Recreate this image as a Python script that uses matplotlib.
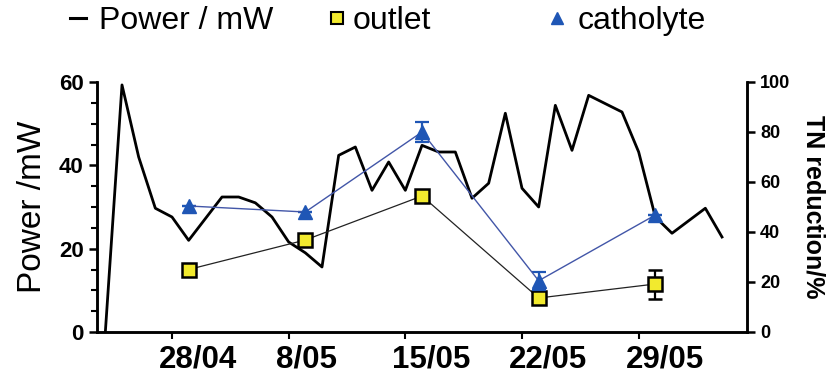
import matplotlib
matplotlib.use("Agg")
import matplotlib.pyplot as plt
from matplotlib.lines import Line2D
from matplotlib.ticker import MultipleLocator

plt.rcParams['font.family'] = ['Liberation Sans', 'DejaVu Sans']

# power output, one reading per day (day 0 = 28/04)
power_days = [-4, -3, -2, -1, 0, 1, 3, 4, 5, 6, 7, 8, 9, 10, 11, 12, 13, 14, 15,
              16, 17, 18, 19, 20, 21, 22, 23, 24, 25, 27, 28, 29, 30, 32, 33]
power_mw = [0, 59.3, 42, 29.7, 27.6, 22, 32.4, 32.4, 31, 27.6, 21.6, 19, 15.6, 42.4,
            44.4, 34, 40.8, 34, 44.8, 43.2, 43.2, 32.1, 35.7, 52.5, 34.5, 30, 54.4,
            43.6, 56.8, 52.8, 43.2, 27.6, 23.7, 29.7, 22.8]

# weekly TN reduction samples
tn_days = [1, 8, 15, 22, 29]
outlet = [25, 36.8, 54.4, 13.6, 19.2]
outlet_err = [0, 1.5, 0, 0, 5.8]
catholyte = [50.4, 48, 80, 20.5, 46.8]
catholyte_err = [0, 0, 4, 3.5, 0]

tick_days = [0, 7, 14, 21, 28]
tick_labels = ['28/04', '8/05', '15/05', '22/05', '29/05']

fig = plt.figure(figsize=(8.29, 3.74), dpi=100)
ax = fig.add_axes([97/829, 42/374, 650/829, 250/374])
ax2 = ax.twinx()

ax.plot(power_days, power_mw, color='black', lw=2.0, zorder=3)
ax.set_xlim(-4.5, 34.5)
ax.set_ylim(0, 60)
ax.yaxis.set_major_locator(MultipleLocator(20))
ax.yaxis.set_minor_locator(MultipleLocator(5))
ax.set_ylabel('Power /mW', fontsize=24, labelpad=8)

ax2.errorbar(tn_days, outlet, yerr=outlet_err, color='#222222', lw=0.9,
             marker='s', ms=10, mfc='#f2ea2e', mec='black', mew=1.8,
             capsize=5, ecolor='black', elinewidth=1.6, capthick=1.6, zorder=4)
ax2.errorbar(tn_days, catholyte, yerr=catholyte_err, color='#4256a8', lw=1.0,
             marker='^', ms=10.5, mfc='#1f56b5', mec='#1f56b5',
             capsize=5, ecolor='#1f56b5', elinewidth=1.6, capthick=1.6, zorder=5)
ax2.set_ylim(0, 100)
ax2.yaxis.set_major_locator(MultipleLocator(20))
ax2.set_ylabel('TN reduction/%', fontsize=18, fontweight='bold', rotation=-90,
               labelpad=25)

# tick marks on the dates, labels sit a little left of each tick, left-aligned
ax.set_xticks(tick_days)
ax.set_xticklabels([])
ax.set_xticks([d - 0.78 for d in tick_days], minor=True)
ax.set_xticklabels(tick_labels, minor=True, fontsize=22.5, fontweight='bold',
                   ha='left')
ax.tick_params(axis='x', which='minor', length=0, pad=9)
ax.tick_params(axis='x', which='major', width=1.5, length=5)

for a in (ax, ax2):
    a.spines['top'].set_visible(False)
    for s in a.spines.values():
        s.set_linewidth(1.8)
ax.tick_params(axis='y', which='major', labelsize=16, width=1.8, length=6)
ax.tick_params(axis='y', which='minor', width=1.5, length=4)
for lab in ax.get_yticklabels():
    lab.set_fontweight('bold')
ax2.tick_params(axis='y', labelsize=13, width=1.8, length=6)
for lab in ax2.get_yticklabels():
    lab.set_fontweight('bold')

# legend entries placed one by one across the top
entries = [
    (Line2D([], [], color='black', lw=2.2), 'Power / mW', 70, 0.4),
    (Line2D([], [], ls='none', marker='s', ms=8, mfc='#f2ea2e', mec='black', mew=1.5),
     'outlet', 329, 0.25),
    (Line2D([], [], ls='none', marker='^', ms=9, mfc='#1f56b5', mec='#1f56b5'),
     'catholyte', 549, 0.4),
]
for handle, text, x0, pad in entries:
    fig.legend([handle], [text], loc='center left',
               bbox_to_anchor=(x0/829, 1 - 21/374), frameon=False,
               fontsize=23, handlelength=0.5, handletextpad=pad,
               borderpad=0, borderaxespad=0)

fig.savefig('out.png', dpi=100)
